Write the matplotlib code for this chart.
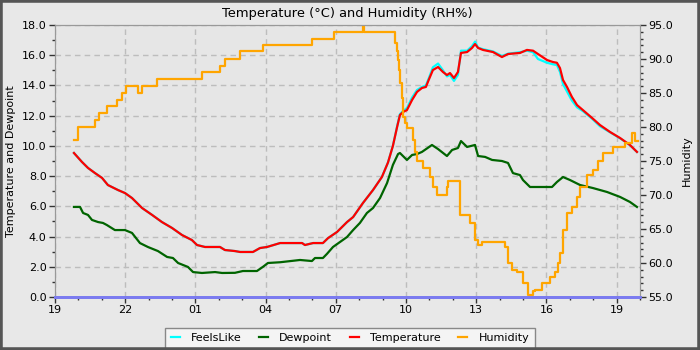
import matplotlib
matplotlib.use("Agg")
import matplotlib.pyplot as plt
from matplotlib.patches import Rectangle
from matplotlib.ticker import MultipleLocator, FormatStrFormatter

# hours after 19:00
temp_t = [0.81, 1.15, 1.41, 1.71, 2.01, 2.26, 2.69, 2.99, 3.29, 3.72, 4.15, 4.57, 5.0,
          5.43, 5.85, 6.07, 6.41, 7.05, 7.26, 7.69, 7.91, 8.46, 8.76, 9.06, 9.62, 10.56,
          10.68, 11.03, 11.45, 11.67, 12.05, 12.48, 12.74, 13.16, 13.59, 13.97, 14.23,
          14.44, 14.62, 14.74, 14.87, 15.04, 15.26, 15.47, 15.68, 15.85, 15.98, 16.15,
          16.37, 16.58, 16.75, 16.88, 17.05, 17.22, 17.35, 17.61, 17.82, 17.95, 18.08,
          18.29, 18.72, 19.10, 19.36, 19.87, 20.17, 20.43, 20.64, 21.03, 21.28, 21.45,
          21.58, 21.71, 21.88, 22.09, 22.31, 22.56, 22.95, 23.29, 23.72, 24.15, 24.57, 24.87]
temperature = [9.53, 8.94, 8.54, 8.2, 7.88, 7.41, 7.08, 6.88, 6.55, 5.89, 5.43, 4.96, 4.57,
               4.10, 3.77, 3.44, 3.31, 3.31, 3.11, 3.04, 2.98, 2.98, 3.24, 3.31, 3.57, 3.57,
               3.44, 3.57, 3.57, 3.9, 4.30, 4.96, 5.29, 6.22, 7.08, 7.94, 8.9,
               10.0, 11.25, 12.04, 12.24, 12.37, 13.04, 13.57, 13.83, 13.9, 14.4, 15.02,
               15.22, 14.89, 14.69, 14.82, 14.49, 14.89, 16.15, 16.21, 16.48, 16.74, 16.48,
               16.35, 16.21, 15.88, 16.08, 16.15, 16.35, 16.3, 16.08, 15.68, 15.55, 15.5,
               15.15, 14.36, 13.9, 13.24, 12.7, 12.37, 11.85, 11.38, 10.92, 10.52, 10.06, 9.6]
feels_like = [9.53, 8.94, 8.54, 8.2, 7.88, 7.41, 7.08, 6.88, 6.55, 5.89, 5.43, 4.96, 4.57,
              4.10, 3.77, 3.44, 3.31, 3.31, 3.11, 3.04, 2.98, 2.98, 3.24, 3.31, 3.57, 3.57,
              3.44, 3.57, 3.57, 3.9, 4.30, 4.96, 5.29, 6.22, 7.08, 7.94, 8.9,
              10.0, 11.3, 12.1, 12.3, 12.5, 13.2, 13.7, 13.9, 14.0, 14.5, 15.2,
              15.45, 15.0, 14.6, 14.7, 14.3, 14.7, 16.3, 16.3, 16.6, 16.9, 16.5,
              16.4, 16.25, 15.95, 16.1, 16.2, 16.3, 16.2, 15.75, 15.5, 15.4, 15.35,
              14.9, 14.1, 13.6, 13.0, 12.55, 12.3, 11.8, 11.3, 10.9, 10.5, 10.05, 9.6]

dew_t = [0.81, 1.07, 1.20, 1.41, 1.58, 1.84, 2.05, 2.22, 2.56, 2.99, 3.29, 3.63, 3.97, 4.40,
         4.79, 5.04, 5.26, 5.68, 5.90, 6.28, 6.84, 7.14, 7.69, 8.03, 8.63, 8.89, 9.10, 9.62,
         10.47, 10.98, 11.11, 11.45, 11.62, 11.88, 12.18, 12.48, 12.74, 13.03, 13.33, 13.59,
         13.89, 14.19, 14.44, 14.66, 14.74, 15.04, 15.26, 15.47, 15.68, 16.11, 16.37, 16.75,
         16.97, 17.22, 17.35, 17.61, 17.95, 18.08, 18.38, 18.68, 19.10, 19.36, 19.57, 19.87,
         20.0, 20.30, 20.73, 21.24, 21.45, 21.71, 22.01, 22.44, 22.99, 23.59, 24.15, 24.57, 24.87]
dewpoint = [5.96, 5.96, 5.56, 5.43, 5.10, 4.96, 4.90, 4.76, 4.43, 4.43, 4.24, 3.57, 3.31, 3.04,
            2.65, 2.58, 2.25, 1.99, 1.65, 1.59, 1.65, 1.59, 1.6, 1.72, 1.72, 2.0, 2.25, 2.3,
            2.45, 2.38, 2.58, 2.58, 2.85, 3.31, 3.64, 3.97, 4.43, 4.90, 5.56, 5.89,
            6.55, 7.54, 8.74, 9.46, 9.53, 9.07, 9.40, 9.46, 9.6, 10.06, 9.79, 9.33,
            9.73, 9.86, 10.32, 9.93, 10.06, 9.33, 9.27, 9.07, 9.0, 8.87, 8.2, 8.07,
            7.74, 7.28, 7.28, 7.28, 7.61, 7.94, 7.74, 7.41, 7.21, 6.95, 6.62, 6.29, 5.96]

hum_t = [0.81, 0.98, 1.71, 1.88, 2.22, 2.65, 2.86, 3.03, 3.55, 3.72, 4.36, 6.28, 7.05, 7.26,
         7.91, 8.89, 10.98, 11.92, 13.16, 13.21, 14.49, 14.53, 14.62, 14.66, 14.70, 14.74,
         14.83, 14.87, 14.96, 15.04, 15.30, 15.38, 15.47, 15.73, 16.03, 16.15, 16.32, 16.75,
         16.79, 17.31, 17.74, 17.95, 18.08, 18.25, 19.23, 19.36, 19.53, 19.74, 20.0, 20.21,
         20.43, 20.51, 20.81, 21.15, 21.37, 21.50, 21.58, 21.71, 21.88, 22.09, 22.31, 22.44,
         22.74, 22.99, 23.21, 23.42, 23.85, 24.36, 24.66, 24.79, 24.91]
humidity = [78.1, 80.0, 81.0, 82.0, 83.1, 84.0, 85.0, 86.0, 85.0, 86.0, 87.0, 88.1, 89.0, 90.0,
            91.2, 92.0, 93.0, 94.0, 95.0, 94.0, 94.0, 92.4, 91.2, 89.9, 88.4, 86.5,
            84.3, 81.5, 80.6, 79.9, 78.1, 76.3, 75.0, 74.0, 72.6, 71.2, 70.0, 71.2,
            72.1, 67.1, 65.9, 63.4, 62.6, 63.1, 62.4, 60.0, 59.0, 58.7, 57.1, 55.3,
            55.9, 56.0, 57.1, 57.9, 58.7, 60.0, 61.5, 64.9, 67.3, 68.2, 69.7, 71.2,
            72.9, 73.7, 75.0, 76.2, 77.1, 77.7, 79.1, 77.9, 77.9]

hour_ticks = [0, 3, 6, 9, 12, 15, 18, 21, 24]
hour_labels = ["19", "22", "01", "04", "07", "10", "13", "16", "19"]

plt.rcParams["font.family"] = "DejaVu Sans"
fig = plt.figure(figsize=(7, 3.5), dpi=100, facecolor="#e8e8e8")
ax = fig.add_axes([55 / 700, 53 / 350, 585 / 700, 272 / 350])
ax.set_facecolor("#e6e6e6")
ax2 = ax.twinx()

l1, = ax.plot(temp_t, feels_like, color="#00ffff", lw=1.6, label="FeelsLike")
l2, = ax.plot(dew_t, dewpoint, color="#006400", lw=1.6, label="Dewpoint")
l3, = ax.plot(temp_t, temperature, color="#ff0000", lw=1.6, label="Temperature")
l4, = ax2.plot(hum_t, humidity, color="#ffa500", lw=1.6, drawstyle="steps-post", label="Humidity")

ax.set_xlim(0, 25)
ax.set_ylim(0, 18)
ax2.set_ylim(55, 95)
ax.set_xticks(hour_ticks)
ax.set_xticklabels(hour_labels)
ax.xaxis.set_minor_locator(MultipleLocator(1))
ax.yaxis.set_major_locator(MultipleLocator(2))
ax.yaxis.set_minor_locator(MultipleLocator(1))
ax.yaxis.set_major_formatter(FormatStrFormatter("%.1f"))
ax2.yaxis.set_major_locator(MultipleLocator(5))
ax2.yaxis.set_minor_locator(MultipleLocator(1))
ax2.yaxis.set_major_formatter(FormatStrFormatter("%.1f"))

for a in (ax, ax2):
    a.tick_params(which="major", length=4, width=1, color="#333333", labelsize=8, pad=2)
    a.tick_params(which="minor", length=2.5, width=1, color="#333333")
    for s in a.spines.values():
        s.set_color("#999999")
    a.spines["bottom"].set_color("#7b7bf0")
    a.spines["bottom"].set_linewidth(2)

ax.grid(which="major", linestyle=(0, (4, 3)), color="#bdbdbd", lw=1)
ax.set_axisbelow(True)

ax.set_title("Temperature (°C) and Humidity (RH%)", fontsize=9.4, pad=6)
ax.set_ylabel("Temperature and Dewpoint", fontsize=8, labelpad=4)
ax2.set_ylabel("Humidity", fontsize=8, labelpad=6)

fig.legend(handles=[l1, l2, l3, l4], loc="lower center", bbox_to_anchor=(0.5, -0.012),
           ncol=4, fontsize=8, frameon=True, fancybox=False, edgecolor="#888888",
           facecolor="#f4f4f4", framealpha=1, handlelength=0.8, handletextpad=1.0,
           columnspacing=1.6, borderpad=0.5)

fig.patches.append(Rectangle((0, 0), 1, 1, transform=fig.transFigure, fill=False,
                             edgecolor="#555555", lw=4, zorder=10))

fig.savefig("out.png", dpi=100, facecolor=fig.get_facecolor())
